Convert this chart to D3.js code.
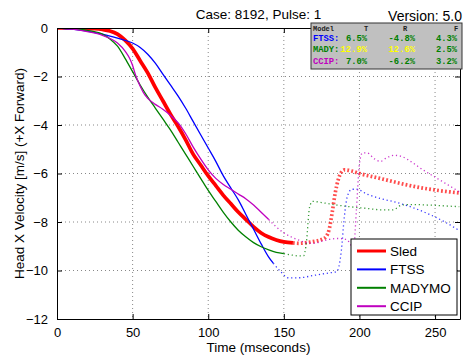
<!DOCTYPE html>
<html>
<head>
<meta charset="utf-8">
<script src="https://cdn.jsdelivr.net/npm/d3@7"></script>
<style>
  body { margin: 0; background: #fff; }
  text { font-family: Arial, "Liberation Sans", sans-serif; }
</style>
</head>
<body>
<svg id="chart" width="463" height="360"></svg>
<script>
// time (ms) / head X velocity (m/s), solid = evaluated part, dotted = rest
const sledT = [0, 10, 20, 25, 30, 35, 40, 45, 50, 55, 60, 65, 70, 75, 80, 85, 90, 95, 100, 105, 110, 115, 120, 125, 130, 135, 140, 145, 150, 156];
const sledV = [0, 0, -0.02, -0.03, -0.06, -0.12, -0.25, -0.5, -0.85, -1.35, -1.85, -2.45, -3.0, -3.55, -4.05, -4.6, -5.2, -5.65, -6.1, -6.5, -6.9, -7.25, -7.6, -7.9, -8.2, -8.45, -8.62, -8.74, -8.82, -8.86];
const sledDotT = [156, 160, 165, 170, 175, 178, 180, 182, 184, 186, 188, 190, 195, 200, 210, 220, 230, 240, 250, 260, 266];
const sledDotV = [-8.86, -8.88, -8.85, -8.8, -8.72, -8.6, -8.3, -7.6, -6.8, -6.25, -5.95, -5.85, -5.9, -6.0, -6.15, -6.3, -6.45, -6.58, -6.68, -6.76, -6.8];

const ftssT = [0, 10, 20, 30, 40, 50, 55, 60, 65, 70, 75, 80, 85, 90, 95, 100, 105, 110, 115, 120, 125, 130, 135, 140, 143];
const ftssV = [0, -0.05, -0.13, -0.25, -0.42, -0.62, -0.8, -1.08, -1.45, -1.9, -2.35, -2.8, -3.3, -3.85, -4.4, -4.95, -5.5, -6.1, -6.6, -7.1, -7.7, -8.3, -8.9, -9.45, -9.7];
const ftssDotT = [143, 148, 153, 160, 170, 180, 185, 188, 190, 192, 195, 198, 205, 215, 225, 235, 245, 255, 266];
const ftssDotV = [-9.7, -10.05, -10.3, -10.3, -10.2, -10.1, -10.05, -9.2, -7.8, -6.95, -6.65, -6.65, -6.85, -7.05, -7.2, -7.4, -7.65, -7.95, -8.35];

const madyT = [0, 10, 20, 30, 35, 40, 45, 50, 55, 60, 65, 70, 75, 80, 85, 90, 95, 100, 105, 110, 115, 120, 125, 130, 135, 140, 145, 150];
const madyV = [0, -0.03, -0.1, -0.25, -0.45, -0.75, -1.25, -1.8, -2.35, -2.85, -3.3, -3.75, -4.2, -4.7, -5.2, -5.7, -6.2, -6.7, -7.15, -7.6, -8.0, -8.35, -8.62, -8.85, -9.02, -9.15, -9.25, -9.3];
const madyDotT = [150, 155, 160, 163, 165, 167, 169, 175, 185, 195, 205, 215, 222, 228, 235, 245, 255, 266];
const madyDotV = [-9.3, -9.36, -9.4, -9.4, -8.8, -7.4, -7.15, -7.2, -7.3, -7.38, -7.44, -7.5, -7.5, -7.3, -7.28, -7.3, -7.33, -7.37];

const ccipT = [0, 10, 20, 30, 40, 45, 48, 50, 52, 55, 58, 60, 65, 70, 75, 80, 85, 90, 95, 100, 105, 110, 115, 120, 125, 130, 135, 140];
const ccipV = [0, -0.05, -0.15, -0.3, -0.62, -0.95, -1.25, -1.55, -1.95, -2.4, -2.75, -2.9, -3.15, -3.35, -3.6, -3.9, -4.35, -4.9, -5.4, -5.85, -6.2, -6.45, -6.65, -6.85, -7.05, -7.3, -7.6, -7.9];
const ccipDotT = [140, 145, 150, 155, 160, 165, 170, 175, 180, 185, 190, 194, 196, 198, 200, 202, 205, 210, 214, 218, 223, 228, 235, 242, 250, 258, 266];
const ccipDotV = [-7.9, -8.2, -8.45, -8.62, -8.75, -8.85, -8.88, -8.8, -8.72, -8.68, -8.7, -8.9, -9.2, -7.5, -5.6, -5.15, -5.15, -5.4, -5.5, -5.35, -5.25, -5.3, -5.55, -5.85, -6.15, -6.45, -6.75];

const xTicks = [0, 50, 100, 150, 200, 250];
const yTicks = [0, -2, -4, -6, -8, -10, -12];

const legendNames = ["Sled", "FTSS", "MADYMO", "CCIP"];
const legendColors = ["#ff0000", "#0000ff", "#008000", "#bf00bf"];

const statHeader = ["Model", "T", "R", "F"];
const statModels = ["FTSS:", "MADY:", "CCIP:"];
const statT = ["6.5%", "12.9%", "7.0%"];
const statR = ["-4.8%", "12.6%", "-6.2%"];
const statF = ["4.3%", "2.5%", "3.2%"];
const statTColor = ["#008000", "#ffff00", "#008000"];
const statRColor = ["#008000", "#ffff00", "#008000"];

const svg = d3.select("#chart");
const pLeft = 57, pRight = 460, pTop = 28, pBottom = 319;

const x = d3.scaleLinear().domain([0, 266.5]).range([pLeft, pRight]);
const y = d3.scaleLinear().domain([-12, 0]).range([pBottom, pTop]);

// grid
const grid = svg.append("g");
grid.selectAll(".gx").data(xTicks.slice(1)).enter().append("line")
  .attr("x1", d => x(d)).attr("x2", d => x(d))
  .attr("y1", pTop).attr("y2", pBottom)
  .attr("stroke", "#888").attr("stroke-dasharray", "1,3");
grid.selectAll(".gy").data(yTicks.slice(1, -1)).enter().append("line")
  .attr("x1", pLeft).attr("x2", pRight)
  .attr("y1", d => y(d)).attr("y2", d => y(d))
  .attr("stroke", "#888").attr("stroke-dasharray", "1,3");

svg.append("clipPath").attr("id", "clip").append("rect")
  .attr("x", pLeft).attr("y", pTop).attr("width", pRight - pLeft).attr("height", pBottom - pTop);

const line = d3.line()
  .x(d => x(d[0])).y(d => y(d[1]))
  .curve(d3.curveMonotoneX);

const series = [
  { t: sledT, v: sledV, dt: sledDotT, dv: sledDotV, w: 3.7 },
  { t: ftssT, v: ftssV, dt: ftssDotT, dv: ftssDotV, w: 1.3 },
  { t: madyT, v: madyV, dt: madyDotT, dv: madyDotV, w: 1.3 },
  { t: ccipT, v: ccipV, dt: ccipDotT, dv: ccipDotV, w: 1.3 }
];

const plot = svg.append("g").attr("clip-path", "url(#clip)");
series.forEach((s, i) => {
  plot.append("path")
    .attr("d", line(s.dt.map((t, j) => [t, s.dv[j]])))
    .attr("fill", "none")
    .attr("stroke", legendColors[i])
    .attr("stroke-width", s.w)
    .attr("stroke-dasharray", i === 0 ? "1.8,2.2" : "1.2,2.8")
    .attr("opacity", i === 0 ? 0.7 : 0.8);
});
series.forEach((s, i) => {
  plot.append("path")
    .attr("d", line(s.t.map((t, j) => [t, s.v[j]])))
    .attr("fill", "none")
    .attr("stroke", legendColors[i])
    .attr("stroke-width", s.w);
});

// axes box with inward ticks on all sides
const ax = svg.append("g");
ax.append("g").attr("transform", `translate(0,${pBottom})`)
  .call(d3.axisBottom(x).tickValues(xTicks).tickSizeInner(-5).tickSizeOuter(0).tickPadding(9));
ax.append("g").attr("transform", `translate(0,${pTop})`)
  .call(d3.axisTop(x).tickValues(xTicks).tickSizeInner(-5).tickSizeOuter(0).tickFormat(""));
ax.append("g").attr("transform", `translate(${pLeft},0)`)
  .call(d3.axisLeft(y).tickValues(yTicks).tickSizeInner(-5).tickSizeOuter(0).tickPadding(9));
ax.append("g").attr("transform", `translate(${pRight},0)`)
  .call(d3.axisRight(y).tickValues(yTicks).tickSizeInner(-5).tickSizeOuter(0).tickFormat(""));
ax.selectAll("text").attr("fill", "#000").style("font-family", "Arial, 'Liberation Sans', sans-serif").style("font-size", "13px");
ax.selectAll("line").attr("stroke", "#000");
ax.selectAll(".domain").attr("stroke", "#000");

// titles and labels
svg.append("text").attr("x", (pLeft + pRight) / 2).attr("y", 19)
  .attr("text-anchor", "middle").style("font-size", "13.5px").text("Case: 8192, Pulse: 1");
svg.append("text").attr("x", (pLeft + pRight) / 2).attr("y", 352)
  .attr("text-anchor", "middle").style("font-size", "13.5px").text("Time (mseconds)");
svg.append("text").attr("transform", `translate(24,${(pTop + pBottom) / 2}) rotate(-90)`)
  .attr("text-anchor", "middle").style("font-size", "13.5px").text("Head X Velocity [m/s] (+X Forward)");

// stats box
const sb = svg.append("g");
sb.append("rect").attr("x", 311).attr("y", 23).attr("width", 151).attr("height", 46)
  .attr("fill", "#c0c0c0").attr("stroke", "#333").attr("stroke-width", 1);
const mono = "'Liberation Mono', 'DejaVu Sans Mono', monospace";
statHeader.forEach((h, i) => {
  sb.append("text").attr("x", [313, 366, 405, 456][i]).attr("y", 30.5)
    .attr("text-anchor", i === 0 ? "start" : "middle")
    .style("font-family", mono).style("font-size", "7px").style("font-weight", "bold")
    .attr("fill", "#222").text(h);
});
const modelColors = ["#0000ff", "#008000", "#bf00bf"];
statModels.forEach((m, i) => {
  const yy = 41 + i * 11.3;
  const row = [[m, modelColors[i]], [statT[i], statTColor[i]], [statR[i], statRColor[i]], [statF[i], "#008000"]];
  row.forEach((c, j) => {
    sb.append("text").attr("x", [313, 367, 415, 457][j]).attr("y", yy)
      .attr("text-anchor", j === 0 ? "start" : "end")
      .style("font-family", mono).style("font-size", "8.8px").style("font-weight", "bold")
      .attr("fill", c[1]).text(c[0]);
  });
});

// version text
svg.append("text").attr("x", 462).attr("y", 20.5).attr("text-anchor", "end")
  .style("font-size", "14px").text("Version: 5.0");

// legend
const lg = svg.append("g");
lg.append("rect").attr("x", 351).attr("y", 239).attr("width", 106).attr("height", 76)
  .attr("fill", "#fff").attr("stroke", "#000");
legendNames.forEach((n, i) => {
  const yy = 251 + i * 18.4;
  lg.append("line").attr("x1", 357).attr("x2", 386).attr("y1", yy).attr("y2", yy)
    .attr("stroke", legendColors[i]).attr("stroke-width", i === 0 ? 3 : 2);
  lg.append("text").attr("x", 390).attr("y", yy + 5).style("font-size", "13.5px").text(n);
});
</script>
</body>
</html>
